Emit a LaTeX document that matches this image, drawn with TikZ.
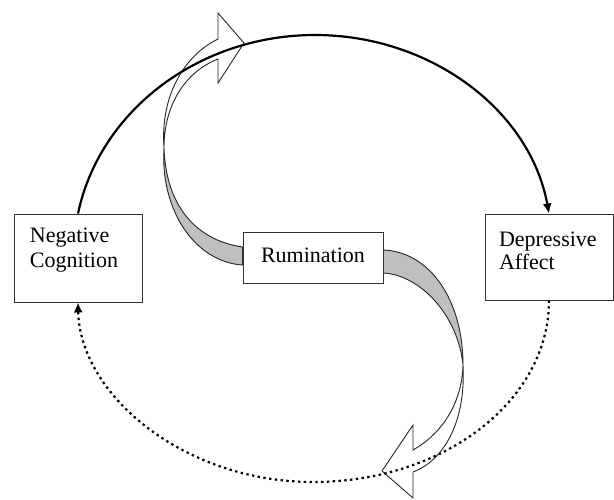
\documentclass[tikz,border=0pt]{standalone}
\usepackage{fontspec}
\setmainfont{Liberation Serif}
\usetikzlibrary{arrows.meta,positioning,calc,backgrounds}

\begin{document}
\begin{tikzpicture}[x=1pt,y=-1pt,
  box/.style={draw=black!80, line width=0.9pt, fill=white, align=left},
  ribbon/.style={draw=black!85, line width=0.9pt},
  loopline/.style={line width=2.2pt, -{Latex[length=10pt,width=9pt]}},
  dotline/.style={dash pattern=on 2.4pt off 3.4pt}]
\useasboundingbox (0,0) rectangle (614,500);

\node[box, name=rum, minimum width=140pt, minimum height=51pt, text height=15pt, text depth=6pt, font=\fontsize{22}{25}\selectfont] at (313,257.5) {Rumination};
\node[box, name=negcog, minimum width=128pt, minimum height=88pt, inner xsep=16pt, text width=96pt, text height=16pt, text depth=46pt, font=\fontsize{22}{25}\selectfont] at (78,258) {Negative\\Cognition};
\node[box, name=depaff, minimum width=128pt, minimum height=86pt, inner xsep=14pt, text width=100pt, text height=16pt, text depth=36pt, font=\fontsize{22}{22.5}\selectfont] at (549,257) {Depressive\\Affect};

\coordinate (rumwa) at ($(rum.west)+(0,-10.5)$);
\coordinate (rumwb) at ($(rum.west)+(0,7.5)$);
\coordinate (rumea) at ($(rum.east)+(0,-7.5)$);
\coordinate (rumeb) at ($(rum.east)+(0,15.5)$);

% ribbons go behind the boxes
\begin{scope}[on background layer]
\filldraw[ribbon, fill=black!25] (rumwa) .. controls (195,240) and (166,205) .. (164,148) .. controls (160,210) and (195,262) .. (rumwb) -- cycle;
\filldraw[ribbon, fill=white] (164,148) .. controls (160,95) and (185,55) .. (218,39) -- (218,13) -- (244,43) -- (218,83) -- (218,59) .. controls (185,72) and (164,105) .. (164,148) -- cycle;

\filldraw[ribbon, fill=black!25] (rumea) .. controls (430,252) and (463,300) .. (463,365) .. controls (458,315) and (420,275) .. (rumeb) -- cycle;
\filldraw[ribbon, fill=white] (463,365) .. controls (462,405) and (440,435) .. (413,450) -- (413,425) -- (382,471) -- (413,498) -- (413,472) .. controls (445,460) and (466,420) .. (463,365) -- cycle;
\end{scope}

\coordinate (arctop) at (315,35);
\coordinate (arcbot) at (313,482);

\draw[loopline] (negcog.north) .. controls (99.7,110.4) and (199.3,35) .. (arctop) .. controls (430.7,35) and (530.3,110.4) .. (depaff.north);
\draw[loopline, dotline] (depaff.south) .. controls (549,400) and (445,482) .. (arcbot) .. controls (184,482) and (80,395) .. (negcog.south);
\end{tikzpicture}
\end{document}
